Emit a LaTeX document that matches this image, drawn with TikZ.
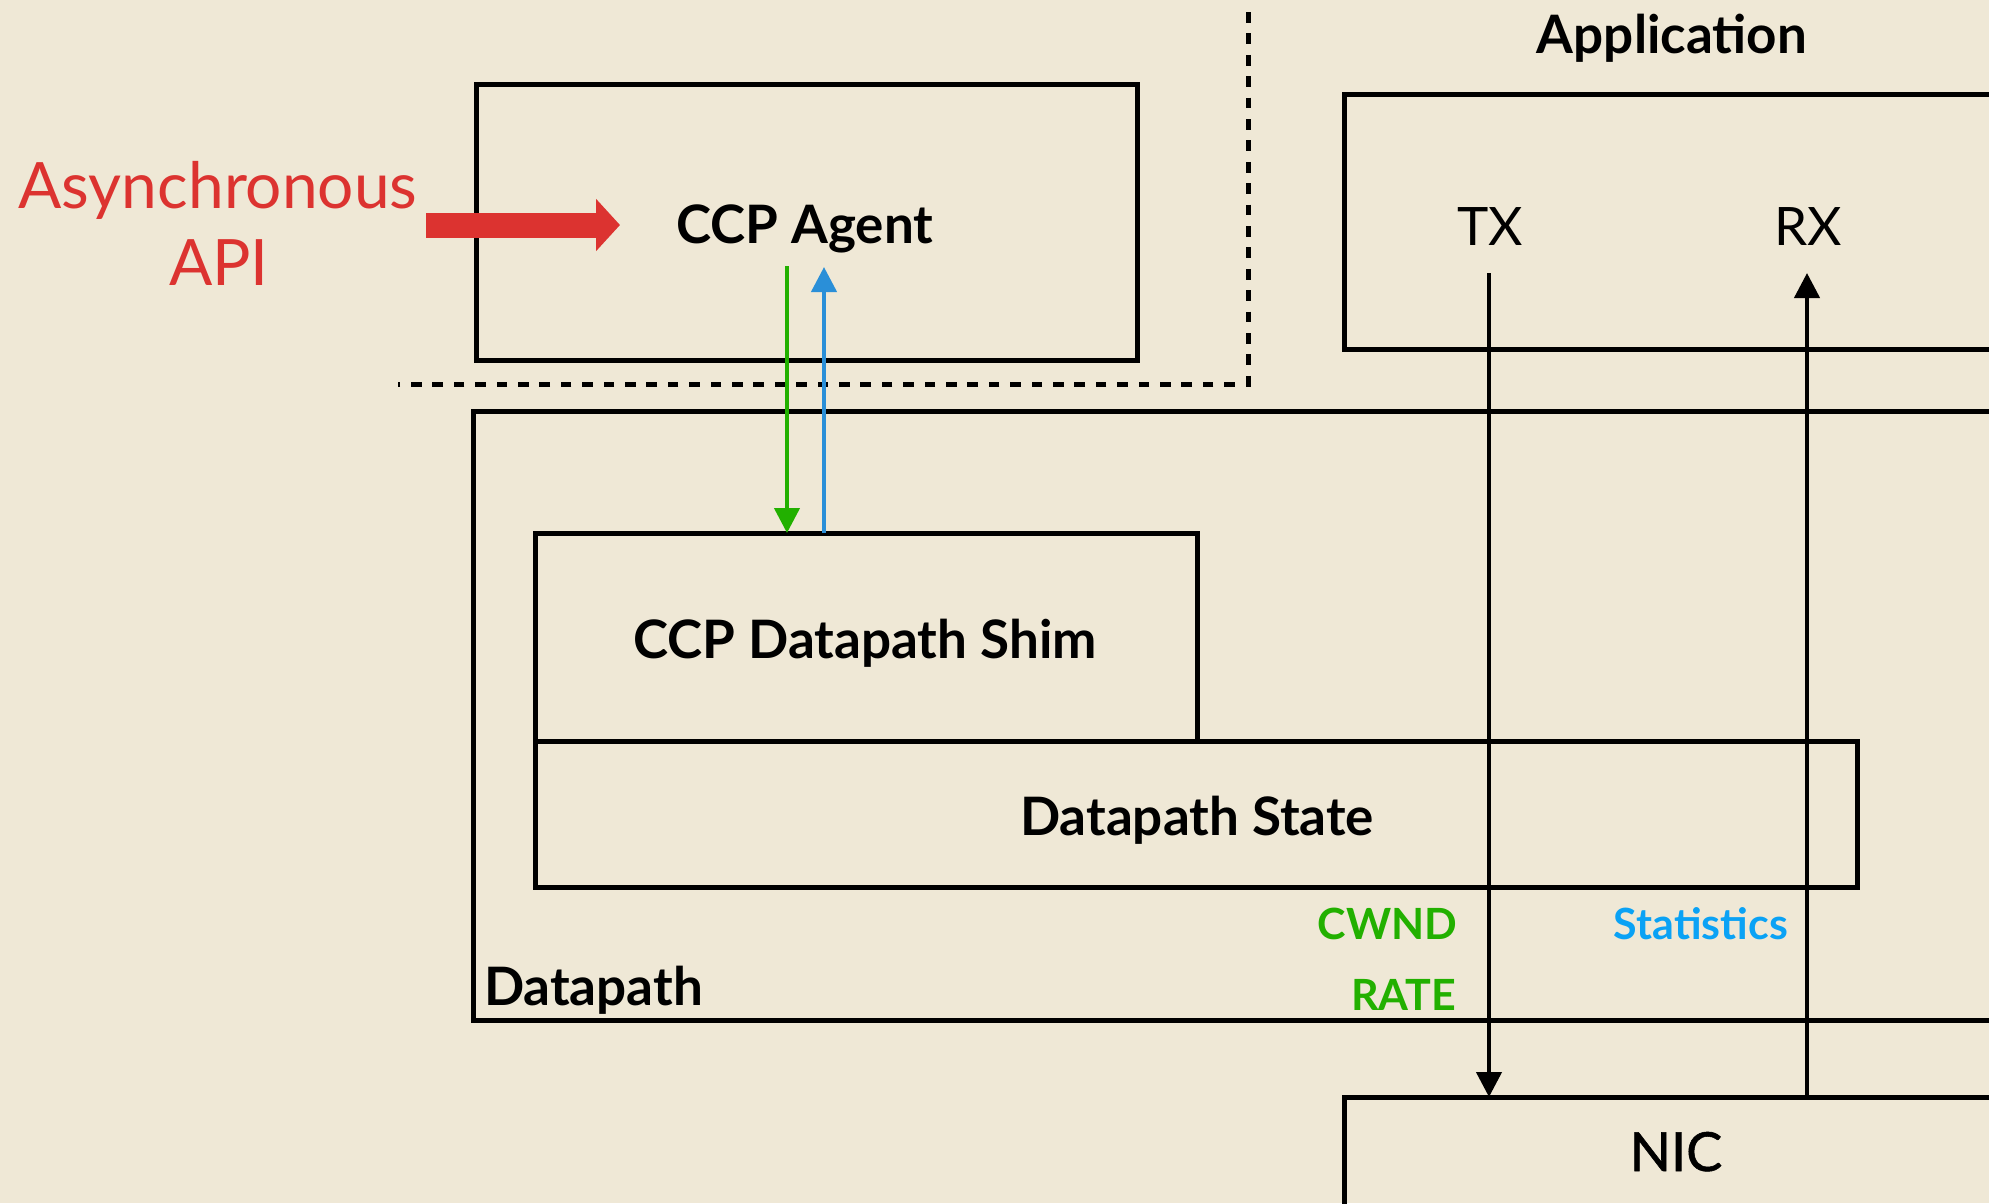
\documentclass[tikz,border=0pt]{standalone}
\usepackage{fontspec}
\setmainfont{Lato}
\newfontfamily\nicfont{Lato}[FakeBold=1.0]
\usetikzlibrary{arrows.meta}
\definecolor{paper}{RGB}{239,232,214}
\definecolor{apired}{RGB}{220,51,48}
\definecolor{ctlgreen}{RGB}{34,176,0}
\definecolor{statblue}{RGB}{42,143,216}
\definecolor{stattext}{RGB}{10,162,245}

\begin{document}
\begin{tikzpicture}[x=1pt,y=-1pt,
  box/.style={draw=black, line width=5pt, inner sep=0pt, outer sep=0pt, anchor=north west},
  lbl/.style={inner sep=0pt, outer sep=0pt, anchor=base, font=\bfseries\fontsize{53}{60}\selectfont},
  plainlbl/.style={inner sep=0pt, outer sep=0pt, anchor=base, font=\fontsize{53}{60}\selectfont},
  smalllbl/.style={inner sep=0pt, outer sep=0pt, anchor=base east, font=\bfseries\fontsize{43}{50}\selectfont},
  asynclbl/.style={inner sep=0pt, outer sep=0pt, anchor=base, text=apired, font=\fontsize{64}{70}\selectfont},
  flow/.style={line width=4.3pt, -{Triangle[length=25pt,width=25pt]}},
  sep/.style={line width=5pt, dash pattern=on 10.7pt off 10.7pt}
]
\useasboundingbox (0,0) rectangle (1989,1203);
\clip (0,0) rectangle (1989,1203);
\fill[paper] (0,0) rectangle (1989,1203);

% user space / kernel space separator
\draw[sep] (1248,12) -- (1248,384) -- (398,384);

% boxes
\node[box, minimum width=661pt, minimum height=276pt] (agentbox) at (476,84) {};
\node[box, minimum width=760pt, minimum height=255pt] (appbox) at (1344,94) {};
\node[box, minimum width=1630pt, minimum height=609pt] (dpbox) at (473,411) {};
\node[box, minimum width=662pt, minimum height=208pt] (shimbox) at (535,533) {};
\node[box, minimum width=1322pt, minimum height=146pt] (statebox) at (535,741) {};
\node[box, minimum width=760pt, minimum height=200pt] (nicbox) at (1344,1097) {};

% labels
\node[lbl] (agent) at (805,243) {CCP Agent};
\node[lbl] (shim) at (865,658) {CCP Datapath Shim};
\node[lbl] (state) at (1197,835) {Datapath State};
\node[lbl, anchor=base west] (dp) at (484,1005) {Datapath};
\node[lbl] (app) at (1672,53) {\addfontfeatures{Ligatures=Rare}Application};
\node[plainlbl] (tx) at (1490,245) {TX};
\node[plainlbl] (rx) at (1808,245) {RX};
\node[plainlbl, font=\nicfont\fontsize{54}{60}\selectfont] (nic) at (1676,1171) {NIC};
\node[smalllbl, text=ctlgreen] (cwnd) at (1457,939) {CWND};
\node[smalllbl, text=ctlgreen] (rate) at (1456,1010) {RATE};
\node[smalllbl, text=stattext] (stats) at (1788,939) {\addfontfeatures{Ligatures=Rare}Statistics};
\node[asynclbl] (asyncA) at (218,208) {Asynchronous};
\node[asynclbl] (asyncB) at (219,285) {API};

% asynchronous API call into the agent
\coordinate (apitail) at (426,225);
\coordinate (apihead) at (620,225);
\draw[apired, line width=25pt, -{Triangle[length=24pt,width=51pt]}] (apitail) -- (apihead);

% agent <-> shim
\coordinate (gstart) at (787,266);
\draw[flow, ctlgreen] (gstart) -- (gstart |- shimbox.north);
\coordinate (btip) at (824,267);
\draw[flow, statblue] (btip |- shimbox.north) -- (btip);

% application <-> NIC
\coordinate (txstart) at (1489,273);
\draw[flow] (txstart) -- (txstart |- nicbox.north);
\coordinate (rxtip) at (1807,273);
\draw[flow] (rxtip |- nicbox.north) -- (rxtip);
\end{tikzpicture}
\end{document}
